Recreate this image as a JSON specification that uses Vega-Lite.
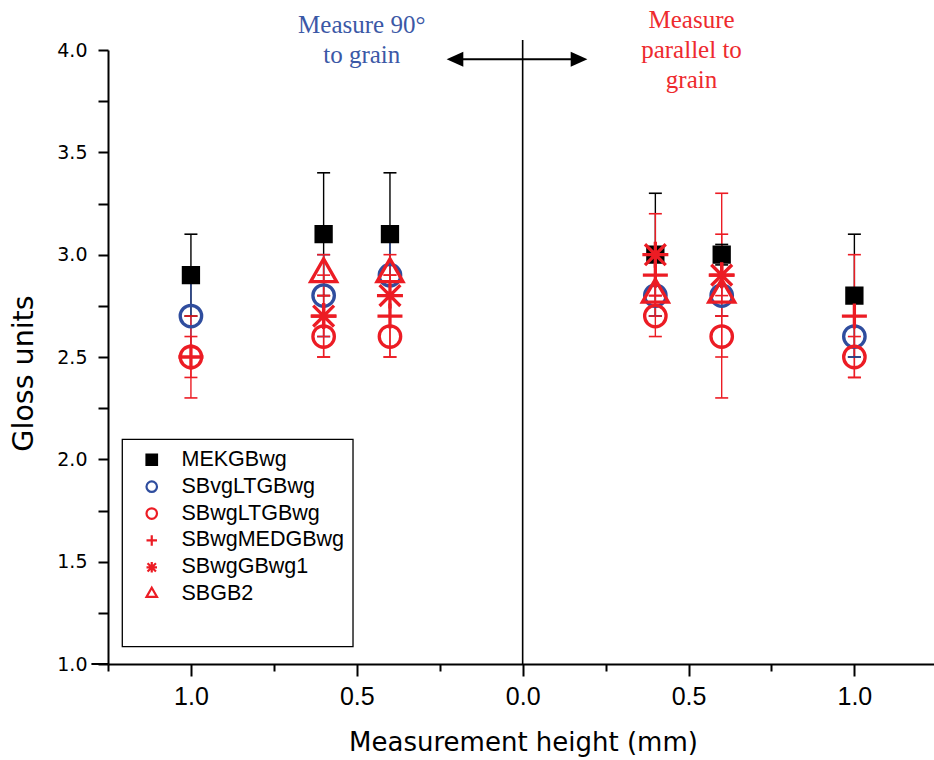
{
  "$schema": "https://vega.github.io/schema/vega-lite/v6.json",
  "width": 826,
  "height": 614,
  "autosize": {"type": "none"},
  "padding": {"left": 108, "top": 50, "right": 0, "bottom": 96},
  "background": "white",
  "config": {"view": {"stroke": null}, "font": "DejaVu Sans"},
  "datasets": {
    "pts": [
      {"s": "MEKGBwg", "x": -1.0, "y": 2.9, "lo": 2.7, "hi": 3.1},
      {"s": "MEKGBwg", "x": -0.6, "y": 3.1, "lo": 2.8, "hi": 3.4},
      {"s": "MEKGBwg", "x": -0.4, "y": 3.1, "lo": 2.8, "hi": 3.4},
      {"s": "MEKGBwg", "x": 0.4, "y": 3.0, "lo": 2.7, "hi": 3.3},
      {"s": "MEKGBwg", "x": 0.6, "y": 3.0, "lo": 2.95, "hi": 3.05},
      {"s": "MEKGBwg", "x": 1.0, "y": 2.8, "lo": 2.5, "hi": 3.1},
      {"s": "SBvgLTGBwg", "x": -1.0, "y": 2.7, "lo": 2.5, "hi": 2.9},
      {"s": "SBvgLTGBwg", "x": -0.6, "y": 2.8, "lo": 2.6, "hi": 3.0},
      {"s": "SBvgLTGBwg", "x": -0.4, "y": 2.9, "lo": 2.7, "hi": 3.1},
      {"s": "SBvgLTGBwg", "x": 0.4, "y": 2.8, "lo": 2.7, "hi": 2.9},
      {"s": "SBvgLTGBwg", "x": 0.6, "y": 2.8, "lo": 2.7, "hi": 2.9},
      {"s": "SBvgLTGBwg", "x": 1.0, "y": 2.6, "lo": 2.5, "hi": 2.7},
      {"s": "SBwgLTGBwg", "x": -1.0, "y": 2.5, "lo": 2.3, "hi": 2.7},
      {"s": "SBwgLTGBwg", "x": -0.6, "y": 2.6, "lo": 2.5, "hi": 2.7},
      {"s": "SBwgLTGBwg", "x": -0.4, "y": 2.6, "lo": 2.5, "hi": 2.7},
      {"s": "SBwgLTGBwg", "x": 0.4, "y": 2.7, "lo": 2.6, "hi": 2.8},
      {"s": "SBwgLTGBwg", "x": 0.6, "y": 2.6, "lo": 2.5, "hi": 2.7},
      {"s": "SBwgLTGBwg", "x": 1.0, "y": 2.5, "lo": 2.4, "hi": 2.6},
      {"s": "SBwgMEDGBwg", "x": -1.0, "y": 2.5, "lo": 2.4, "hi": 2.6},
      {"s": "SBwgMEDGBwg", "x": -0.6, "y": 2.7, "lo": 2.6, "hi": 2.8},
      {"s": "SBwgMEDGBwg", "x": -0.4, "y": 2.7, "lo": 2.5, "hi": 2.9},
      {"s": "SBwgMEDGBwg", "x": 0.4, "y": 2.9, "lo": 2.8, "hi": 3.0},
      {"s": "SBwgMEDGBwg", "x": 0.6, "y": 2.9, "lo": 2.8, "hi": 3.0},
      {"s": "SBwgMEDGBwg", "x": 1.0, "y": 2.7, "lo": 2.4, "hi": 3.0},
      {"s": "SBwgGBwg1", "x": -0.6, "y": 2.7, "lo": 2.5, "hi": 2.9},
      {"s": "SBwgGBwg1", "x": -0.4, "y": 2.8, "lo": 2.7, "hi": 2.9},
      {"s": "SBwgGBwg1", "x": 0.4, "y": 3.0, "lo": 2.8, "hi": 3.2},
      {"s": "SBwgGBwg1", "x": 0.6, "y": 2.9, "lo": 2.7, "hi": 3.1},
      {"s": "SBGB2", "x": -0.6, "y": 2.9, "lo": 2.8, "hi": 3.0},
      {"s": "SBGB2", "x": -0.4, "y": 2.9, "lo": 2.8, "hi": 3.0},
      {"s": "SBGB2", "x": 0.4, "y": 2.8, "lo": 2.7, "hi": 2.9},
      {"s": "SBGB2", "x": 0.6, "y": 2.8, "lo": 2.3, "hi": 3.3}
    ]
  },
  "layer": [
    {
      "data": {"values": [{}]},
      "mark": {"type": "rect", "fill": "white", "stroke": "black", "strokeWidth": 1.3},
      "encoding": {
        "x": {"datum": -1.2069, "type": "quantitative", "scale": {"domain": [-1.25, 1.24], "nice": false, "zero": false}},
        "x2": {"datum": -0.5114},
        "y": {"datum": 2.0979, "type": "quantitative", "scale": {"domain": [1, 4], "nice": false, "zero": false}},
        "y2": {"datum": 1.0845}
      }
    },
    {
      "data": {"values": [{}]},
      "mark": {"type": "rule", "color": "black", "strokeWidth": 2},
      "encoding": {
        "x": {"datum": -1.3, "type": "quantitative", "scale": {"domain": [-1.25, 1.24], "nice": false, "zero": false}},
        "x2": {"datum": -1.25},
        "y": {"datum": 1, "type": "quantitative", "scale": {"domain": [1, 4], "nice": false, "zero": false}}
      }
    },
    {
      "data": {"values": [{}]},
      "mark": {"type": "rule", "color": "black", "strokeWidth": 1.6},
      "encoding": {
        "x": {"datum": 0, "type": "quantitative", "scale": {"domain": [-1.25, 1.24], "nice": false, "zero": false}},
        "y": {"datum": 1, "type": "quantitative", "scale": {"domain": [1, 4], "nice": false, "zero": false}},
        "y2": {"datum": 4.049}
      }
    },
    {
      "data": {"values": [{}]},
      "mark": {"type": "rule", "color": "black", "strokeWidth": 2},
      "encoding": {
        "x": {"datum": -0.19, "type": "quantitative", "scale": {"domain": [-1.25, 1.24], "nice": false, "zero": false}},
        "x2": {"datum": 0.16},
        "y": {"datum": 3.955, "type": "quantitative", "scale": {"domain": [1, 4], "nice": false, "zero": false}}
      }
    },
    {
      "data": {"values": [{}]},
      "mark": {"type": "point", "shape": "M-1,0L1,-0.9L1,0.9Z", "filled": true, "size": 279, "color": "black", "opacity": 1},
      "encoding": {
        "x": {"datum": -0.204, "type": "quantitative", "scale": {"domain": [-1.25, 1.24], "nice": false, "zero": false}},
        "y": {"datum": 3.955, "type": "quantitative", "scale": {"domain": [1, 4], "nice": false, "zero": false}}
      }
    },
    {
      "data": {"values": [{}]},
      "mark": {"type": "point", "shape": "M1,0L-1,-0.9L-1,0.9Z", "filled": true, "size": 279, "color": "black", "opacity": 1},
      "encoding": {
        "x": {"datum": 0.17, "type": "quantitative", "scale": {"domain": [-1.25, 1.24], "nice": false, "zero": false}},
        "y": {"datum": 3.955, "type": "quantitative", "scale": {"domain": [1, 4], "nice": false, "zero": false}}
      }
    },
    {
      "data": {"values": [{}]},
      "mark": {"type": "text", "font": "Liberation Serif", "fontSize": 25, "color": "#3B58A6", "align": "center", "baseline": "alphabetic", "lineBreak": "\n", "lineHeight": 30},
      "encoding": {
        "x": {"datum": -0.485, "type": "quantitative", "scale": {"domain": [-1.25, 1.24], "nice": false, "zero": false}},
        "y": {"datum": 4.0816, "type": "quantitative", "scale": {"domain": [1, 4], "nice": false, "zero": false}},
        "text": {"value": "Measure 90°\nto grain"}
      }
    },
    {
      "data": {"values": [{}]},
      "mark": {"type": "text", "font": "Liberation Serif", "fontSize": 25, "color": "#EE2A2E", "align": "center", "baseline": "alphabetic", "lineBreak": "\n", "lineHeight": 30},
      "encoding": {
        "x": {"datum": 0.509, "type": "quantitative", "scale": {"domain": [-1.25, 1.24], "nice": false, "zero": false}},
        "y": {"datum": 4.106, "type": "quantitative", "scale": {"domain": [1, 4], "nice": false, "zero": false}},
        "text": {"value": "Measure\nparallel to\ngrain"}
      }
    },
    {
      "data": {"name": "pts"},
      "mark": {"type": "rule", "strokeWidth": 1.4},
      "encoding": {
        "x": {"field": "x", "type": "quantitative", "scale": {"domain": [-1.25, 1.24], "nice": false, "zero": false}},
        "y": {"field": "lo", "type": "quantitative", "scale": {"domain": [1, 4], "nice": false, "zero": false}},
        "y2": {"field": "hi"},
        "color": {"field": "s", "type": "nominal", "scale": {"domain": ["SBGB2", "SBwgGBwg1", "SBwgMEDGBwg", "SBwgLTGBwg", "SBvgLTGBwg", "MEKGBwg"], "range": ["#EC1C24", "#EC1C24", "#EC1C24", "#EC1C24", "#2F4D9E", "#000000"]}, "legend": null}
      }
    },
    {
      "data": {"name": "pts"},
      "mark": {"type": "tick", "orient": "horizontal", "size": 13, "thickness": 1.6, "opacity": 1},
      "encoding": {
        "x": {"field": "x", "type": "quantitative", "scale": {"domain": [-1.25, 1.24], "nice": false, "zero": false}},
        "y": {"field": "lo", "type": "quantitative", "scale": {"domain": [1, 4], "nice": false, "zero": false}},
        "color": {"field": "s", "type": "nominal", "scale": {"domain": ["SBGB2", "SBwgGBwg1", "SBwgMEDGBwg", "SBwgLTGBwg", "SBvgLTGBwg", "MEKGBwg"], "range": ["#EC1C24", "#EC1C24", "#EC1C24", "#EC1C24", "#2F4D9E", "#000000"]}, "legend": null}
      }
    },
    {
      "data": {"name": "pts"},
      "mark": {"type": "tick", "orient": "horizontal", "size": 13, "thickness": 1.6, "opacity": 1},
      "encoding": {
        "x": {"field": "x", "type": "quantitative", "scale": {"domain": [-1.25, 1.24], "nice": false, "zero": false}},
        "y": {"field": "hi", "type": "quantitative", "scale": {"domain": [1, 4], "nice": false, "zero": false}},
        "color": {"field": "s", "type": "nominal", "scale": {"domain": ["SBGB2", "SBwgGBwg1", "SBwgMEDGBwg", "SBwgLTGBwg", "SBvgLTGBwg", "MEKGBwg"], "range": ["#EC1C24", "#EC1C24", "#EC1C24", "#EC1C24", "#2F4D9E", "#000000"]}, "legend": null}
      }
    },
    {
      "data": {"name": "pts"},
      "mark": {"type": "point", "opacity": 1},
      "encoding": {
        "x": {
          "field": "x", "type": "quantitative",
          "scale": {"domain": [-1.25, 1.24], "nice": false, "zero": false},
          "axis": {
            "values": [-1.25, -1, -0.75, -0.5, -0.25, 0, 0.25, 0.5, 0.75, 1],
            "labelExpr": "abs(datum.value*2 - round(datum.value*2)) < 0.01 ? format(abs(datum.value), '.1f') : ''",
            "tickSize": {"condition": {"test": "abs(datum.value*2 - round(datum.value*2)) < 0.01", "value": 12}, "value": 7},
            "grid": false, "labelFlush": false, "labelOverlap": false,
            "domainColor": "black", "domainWidth": 2, "tickColor": "black", "tickWidth": 2,
            "labelFont": "Liberation Sans", "labelFontSize": 25, "labelColor": "black", "labelPadding": 8,
            "title": "Measurement height (mm)", "titleFont": "DejaVu Sans", "titleFontSize": 26, "titleFontWeight": "normal", "titleColor": "black",
            "titleBaseline": "alphabetic", "titleX": 415, "titleY": 86
          }
        },
        "y": {
          "field": "y", "type": "quantitative",
          "scale": {"domain": [1, 4], "nice": false, "zero": false},
          "axis": {
            "values": [1, 1.25, 1.5, 1.75, 2, 2.25, 2.5, 2.75, 3, 3.25, 3.5, 3.75, 4],
            "labelExpr": "abs(datum.value*2 - round(datum.value*2)) < 0.01 ? format(datum.value, '.1f') : ''",
            "tickSize": 10, "grid": false, "labelFlush": false, "labelOverlap": false,
            "domainColor": "black", "domainWidth": 2, "tickColor": "black", "tickWidth": 2,
            "labelFont": "DejaVu Sans", "labelFontSize": 19, "labelColor": "black", "labelPadding": 11,
            "title": "Gloss units", "titleFont": "DejaVu Sans", "titleFontSize": 28.5, "titleFontWeight": "normal", "titleColor": "black",
            "titleBaseline": "alphabetic", "titleX": -76, "titleY": 323, "titleAngle": 270, "titleAlign": "center"
          }
        },
        "shape": {
          "field": "s", "type": "nominal",
          "scale": {"domain": ["MEKGBwg", "SBvgLTGBwg", "SBwgLTGBwg", "SBwgMEDGBwg", "SBwgGBwg1", "SBGB2"],
                    "range": ["square", "circle", "circle", "M-1,0L1,0M0,-1L0,1", "M-1,0L1,0M0,-1L0,1M-0.8,-0.8L0.8,0.8M-0.8,0.8L0.8,-0.8", "M0,-1.25L1,0.5L-1,0.5Z"]},
          "legend": {"title": null, "orient": "none", "legendX": 33, "legendY": 399, "padding": 0, "labelFont": "Liberation Sans", "labelFontSize": 21.5, "labelColor": "black", "symbolSize": 110, "symbolStrokeWidth": 2.2, "rowPadding": 3.9, "labelOffset": 19, "labelLimit": 0}
        },
        "stroke": {
          "field": "s", "type": "nominal",
          "scale": {"domain": ["MEKGBwg", "SBvgLTGBwg", "SBwgLTGBwg", "SBwgMEDGBwg", "SBwgGBwg1", "SBGB2"],
                    "range": ["#000000", "#2F4D9E", "#EC1C24", "#EC1C24", "#EC1C24", "#EC1C24"]},
          "legend": {"title": null, "orient": "none", "legendX": 33, "legendY": 399, "padding": 0, "labelFont": "Liberation Sans", "labelFontSize": 21.5, "labelColor": "black", "symbolSize": 110, "symbolStrokeWidth": 2.2, "rowPadding": 3.9, "labelOffset": 19, "labelLimit": 0}
        },
        "fill": {
          "field": "s", "type": "nominal",
          "scale": {"domain": ["MEKGBwg", "SBvgLTGBwg", "SBwgLTGBwg", "SBwgMEDGBwg", "SBwgGBwg1", "SBGB2"],
                    "range": ["#000000", "transparent", "transparent", "transparent", "transparent", "transparent"]},
          "legend": {"title": null, "orient": "none", "legendX": 33, "legendY": 399, "padding": 0, "labelFont": "Liberation Sans", "labelFontSize": 21.5, "labelColor": "black", "symbolSize": 110, "symbolStrokeWidth": 2.2, "rowPadding": 3.9, "labelOffset": 19, "labelLimit": 0}
        },
        "size": {
          "field": "s", "type": "nominal",
          "scale": {"type": "ordinal", "domain": ["SBGB2", "SBwgGBwg1", "SBwgMEDGBwg", "SBwgLTGBwg", "SBvgLTGBwg", "MEKGBwg"],
                    "range": [676, 676, 625, 460, 460, 225]},
          "legend": null
        },
        "strokeWidth": {"value": 3.3}
      }
    }
  ]
}
